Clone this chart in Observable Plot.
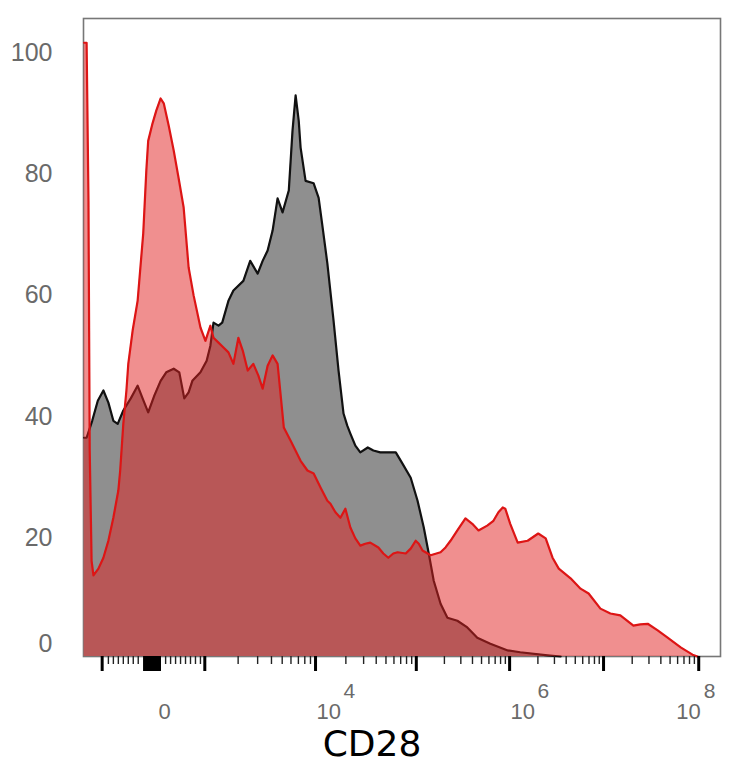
<!DOCTYPE html>
<html><head><meta charset="utf-8">
<script src="https://cdn.jsdelivr.net/npm/d3@7"></script>
<script src="https://cdn.jsdelivr.net/npm/@observablehq/plot@0.6"></script>
<style>body{margin:0;background:#fff}</style>
</head><body><div id="chart"></div>
<script>
// Histogram (display channel 0..1024 on a biexponential CD28 axis, % of max)
const grayChannel = [1,5,14,23,32,40,48,55,64,76,87,95,104,114,124,133,145,154,162,169,175,188,198,204,209,217,223,233,241,257,268,280,288,296,304,312,320,330,336,341,346,349,357,370,378,384,392,402,410,418,424,429,437,445,457,466,477,490,502,513,526,537,547,555,563,574,585,601,617,633,654,682,702,746,767];
const grayCount = [36.1,36.1,38.9,42.2,43.9,41.9,38.9,38.4,40.6,42.6,44.7,42.6,40.3,43.1,45.5,46.9,47.5,46.9,42.6,43.6,45.5,46.9,48.8,51.3,55.1,54.6,55.1,58.7,60.4,62.0,65.3,63.2,65.3,67.0,70.3,75.6,73.3,76.9,86.8,92.6,88.4,84.0,78.5,78.1,75.7,71.1,64.9,55.4,47.2,40.1,38.1,36.8,34.8,33.7,34.5,34.0,33.7,33.7,33.7,31.8,29.5,25.7,21.3,17.0,12.5,8.7,6.4,5.9,4.8,3.1,2.1,1.0,0.7,0.2,0];

const redChannel = [1,5,8,10,13,16,24,32,40,48,56,59,64,69,72,79,87,96,101,104,111,117,124,129,137,145,153,161,169,177,188,196,204,209,217,225,233,241,249,256,264,273,281,288,296,304,312,322,333,349,360,370,381,392,397,405,413,421,429,437,445,453,461,474,482,490,498,505,518,526,534,539,545,558,574,582,590,601,614,625,635,649,659,667,674,678,686,698,714,731,743,754,764,783,799,812,831,847,863,884,895,907,923,939,960,979,987];
const redCount = [101.3,101.3,75.2,34.0,15.8,13.4,14.5,16.3,19.1,22.9,27.4,30.7,38.4,43.9,48.3,53.8,58.7,69.8,80.2,85.1,88.0,90.1,92.1,91.3,87.6,83.5,78.9,74.1,64.2,59.6,54.3,52.1,54.6,52.6,51.8,51.0,50.2,48.3,52.6,50.5,47.2,48.3,46.4,44.2,48.0,49.7,48.3,37.8,35.6,32.3,30.7,30.2,27.9,25.7,25.2,23.8,22.9,24.4,21.3,19.5,18.3,18.6,18.8,18.0,17.0,16.3,17.0,17.2,17.0,17.8,19.1,18.6,17.5,16.7,17.2,18.0,19.1,20.8,22.8,21.9,20.8,21.6,22.4,23.8,24.6,24.4,21.9,18.8,19.1,20.3,19.5,16.3,14.5,12.9,11.2,10.4,7.9,7.1,6.8,5.1,5.3,5.4,4.3,3.1,1.5,0.3,0];

// Axis: major tick channels and their values
const majorTickChannels = [30,111,195,373,535,685,836,989];
const majorTickValues = [-1e3,0,1e3,1e4,1e5,1e6,1e7,1e8];
const nearZeroMinorChannels = [40,48,56,64,72,80,88,132,140,148,156,164,172,180,188];
const zeroBlock = [97,124];
const xLabelValues = [0,1e4,1e6,1e8];
const xLabelBases = ["0","10","10","10"];
const xLabelExps = ["","4","6","8"];
const yTickValues = [0,20,40,60,80,100];
const xTitle = "CD28";

const gray = grayChannel.map((c,i)=>({c, v: grayCount[i]}));
const red = redChannel.map((c,i)=>({c, v: redCount[i]}));

// log minor ticks within each positive decade
const logMajors = majorTickChannels.slice(2);
const logMinor = [];
for (let i=0;i<logMajors.length-1;i++){
  const a=logMajors[i], b=logMajors[i+1];
  for (let k=2;k<=9;k++) logMinor.push(a + Math.log10(k)*(b-a));
}
const block = d3.range(zeroBlock[0], zeroBlock[1]+0.01, 0.8);
const chanOf = v => majorTickChannels[majorTickValues.indexOf(v)];
const labels = xLabelValues.map((v,i)=>({c: chanOf(v), base: xLabelBases[i], exp: xLabelExps[i], v}));

const labelColor = "#6a6a6a";
const font = "Liberation Sans, Arial, sans-serif";
const blank = () => "";

const chart = Plot.plot({
  width: 734, height: 768,
  marginLeft: 83, marginRight: 14, marginTop: 18, marginBottom: 112,
  x: {domain: [0,1024], label: null},
  y: {domain: [0,105.3], axis: null, label: null},
  marks: [
    Plot.frame({stroke: "#777", strokeWidth: 1.6}),
    Plot.areaY(gray, {x: "c", y: "v", fill: "#8f8f8f"}),
    Plot.lineY(gray, {x: "c", y: "v", stroke: "#111", strokeWidth: 2.2}),
    Plot.areaY(red, {x: "c", y: "v", fill: "rgb(226,32,32)", fillOpacity: 0.5}),
    Plot.lineY(red, {x: "c", y: "v", stroke: "#dd1515", strokeWidth: 2.2}),
    Plot.axisX({ticks: logMinor.concat(nearZeroMinorChannels), tickSize: 8, tickFormat: blank, label: null, stroke: "#222", strokeWidth: 1.4, anchor: "bottom"}),
    Plot.axisX({ticks: block, tickSize: 15, tickFormat: blank, label: null, stroke: "#000", strokeWidth: 1.5, anchor: "bottom"}),
    Plot.axisX({ticks: majorTickChannels.filter(c=>c!==chanOf(0)), tickSize: 15, tickFormat: blank, label: null, stroke: "#000", strokeWidth: 3, anchor: "bottom"}),
    // x labels
    Plot.text(labels.filter(d=>d.v===0), {x: "c", text: "base", frameAnchor: "bottom", dy: 55, dx: 6, textAnchor: "start", lineAnchor: "middle", fontSize: 22, fill: labelColor, fontFamily: font}),
    Plot.text(labels.filter(d=>d.v!==0 && d.v!==1e8), {x: "c", text: "base", frameAnchor: "bottom", dy: 55, dx: 1, textAnchor: "start", lineAnchor: "middle", fontSize: 22, fill: labelColor, fontFamily: font}),
    Plot.text(labels.filter(d=>d.v!==0 && d.v!==1e8), {x: "c", text: "exp", frameAnchor: "bottom", dy: 35, dx: 28, textAnchor: "start", lineAnchor: "middle", fontSize: 21, fill: labelColor, fontFamily: font}),
    Plot.text(labels.filter(d=>d.v===1e8), {x: "c", text: "base", frameAnchor: "bottom", dy: 55, dx: 2, textAnchor: "end", lineAnchor: "middle", fontSize: 22, fill: labelColor, fontFamily: font}),
    Plot.text(labels.filter(d=>d.v===1e8), {x: "c", text: "exp", frameAnchor: "bottom", dy: 35, dx: 5, textAnchor: "start", lineAnchor: "middle", fontSize: 21, fill: labelColor, fontFamily: font}),
    // y labels
    Plot.text(yTickValues.filter(d=>d!==0), {y: d=>d, text: d=>String(d), frameAnchor: "left", dx: -31, dy: 2.5, textAnchor: "end", lineAnchor: "middle", fontSize: 25, fill: labelColor, fontFamily: font}),
    Plot.text(yTickValues.filter(d=>d===0), {y: d=>d, text: d=>String(d), frameAnchor: "left", dx: -31, dy: -13, textAnchor: "end", lineAnchor: "middle", fontSize: 25, fill: labelColor, fontFamily: font}),
    // title
    Plot.text([xTitle], {frameAnchor: "bottom", dx: -30, dy: 99, lineAnchor: "bottom", fontSize: 36, fill: "#000", fontFamily: "DejaVu Sans, sans-serif"})
  ]
});
document.getElementById("chart").appendChild(chart);
</script>
</body></html>
